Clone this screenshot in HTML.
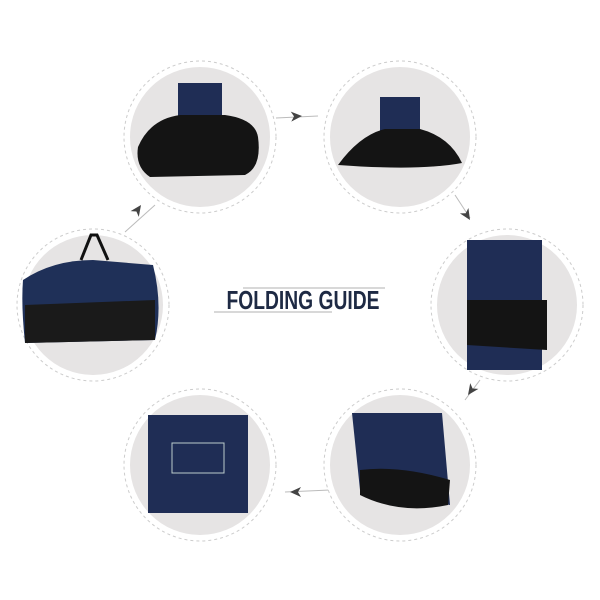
<!DOCTYPE html>
<html><head><style>body{margin:0;background:#fff}svg{display:block}</style></head><body>
<svg width="600" height="600" viewBox="0 0 600 600" xmlns="http://www.w3.org/2000/svg">
<defs>
<g id="c"><circle r="76" fill="#fff" stroke="#ccc" stroke-width="1" stroke-dasharray="3,3"/><circle r="70" fill="#e6e4e4"/></g>
<path id="ah" d="M0,0 L-11,-5 L-8,0 L-11,5 Z" fill="#444"/>
</defs>
<g stroke="#bbb" stroke-width="1" fill="none">
<line x1="276" y1="118" x2="318" y2="116"/>
<line x1="455" y1="195" x2="470" y2="218"/>
<line x1="480" y1="380" x2="465" y2="400"/>
<line x1="330" y1="490" x2="285" y2="492"/>
<line x1="125" y1="232" x2="155" y2="205"/>
</g>
<use href="#ah" transform="translate(302,116) rotate(-3)"/>
<use href="#ah" transform="translate(470,220) rotate(58)"/>
<use href="#ah" transform="translate(468,395) rotate(125)"/>
<use href="#ah" transform="translate(290,492) rotate(180)"/>
<use href="#ah" transform="translate(141,205) rotate(-55)"/>

<g transform="translate(200,137)"><use href="#c"/>
<rect x="-22" y="-54" width="44" height="34" fill="#1f2d55"/>
<path d="M-62,10 Q-50,-18 -20,-22 L25,-22 Q55,-18 58,0 Q62,30 45,38 L-50,40 Q-65,30 -62,10Z" fill="#141414"/></g>
<g transform="translate(400,137)"><use href="#c"/>
<rect x="-20" y="-40" width="40" height="36" fill="#1f2d55"/>
<path d="M-62,28 Q-40,-2 -15,-8 L20,-8 Q50,0 62,26 Q20,34 -62,28Z" fill="#141414"/></g>
<g transform="translate(93,305)"><use href="#c"/>
<path d="M-12,-45 L-2,-70 L4,-70 L15,-45" stroke="#111" stroke-width="3" fill="none"/>
<path d="M-70,-25 Q-40,-45 0,-45 L60,-40 Q70,0 62,35 L-68,38 Q-72,0 -70,-25Z" fill="#1f3058"/>
<path d="M-68,0 L62,-5 L62,35 L-68,38Z" fill="#1a1a1a"/></g>
<g transform="translate(507,305)"><use href="#c"/>
<rect x="-40" y="-65" width="75" height="130" fill="#1f2d55"/>
<path d="M-40,-5 L40,-5 L40,45 L-40,40Z" fill="#141414"/></g>
<g transform="translate(200,465)"><use href="#c"/>
<rect x="-52" y="-50" width="100" height="98" fill="#1f2d55"/>
<rect x="-28" y="-22" width="52" height="30" fill="none" stroke="#bcc" stroke-width="1"/></g>
<g transform="translate(400,465)"><use href="#c"/>
<path d="M-48,-52 L42,-52 L50,40 Q0,30 -40,25Z" fill="#1f2d55"/>
<path d="M-40,5 Q0,0 50,15 L48,40 Q0,50 -40,30Z" fill="#141414"/></g>

<line x1="243" y1="288" x2="385" y2="288" stroke="#999" stroke-width="0.7"/>
<line x1="214" y1="312" x2="332" y2="312" stroke="#999" stroke-width="0.7"/>
<text x="303" y="309" text-anchor="middle" font-family="Liberation Sans, sans-serif" font-weight="bold" font-size="26" fill="#1e2a44" textLength="153" lengthAdjust="spacingAndGlyphs">FOLDING GUIDE</text>
</svg>
</body></html>
